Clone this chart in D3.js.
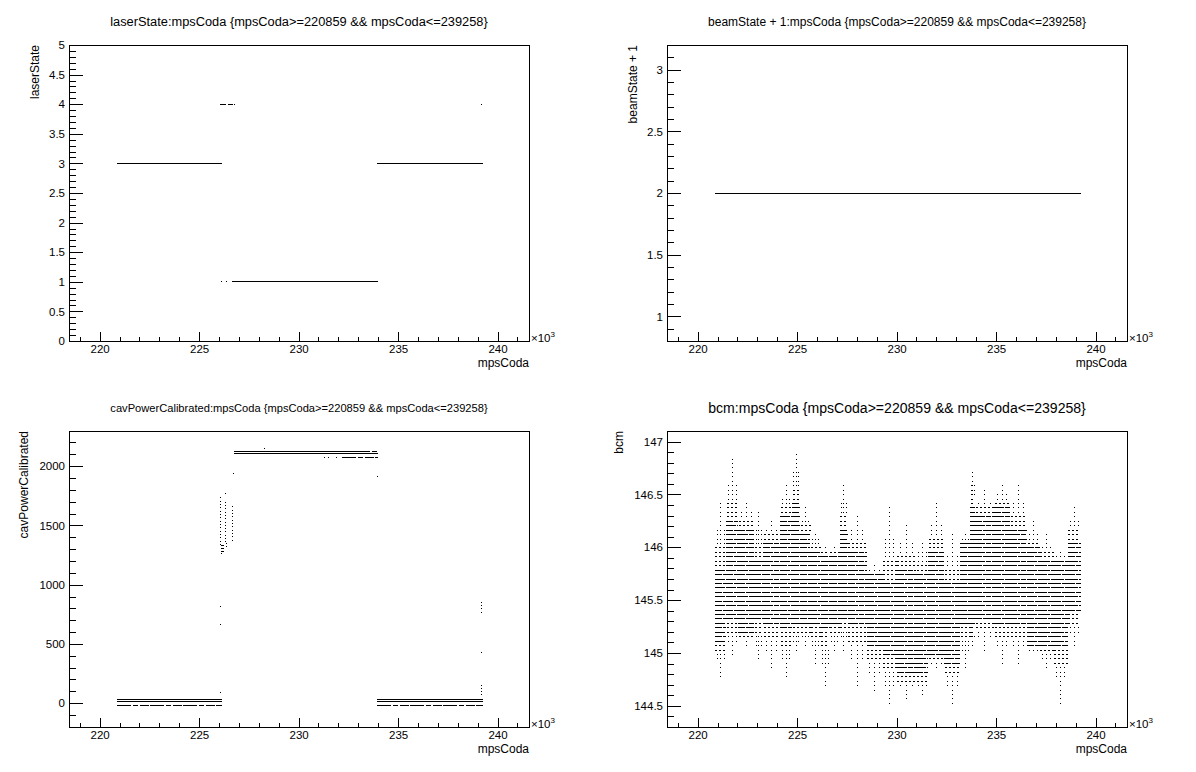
<!DOCTYPE html>
<html><head><meta charset="utf-8">
<script src="https://cdn.jsdelivr.net/npm/d3@7"></script>
<style>
body{margin:0;background:#fff}
svg{display:block;background:#fff}
text{font-family:"Liberation Sans",Arial,Helvetica,sans-serif;fill:#000}
</style></head><body>
<svg id="c" width="1196" height="772"></svg>
<script>
// ---------------- data ----------------
const padTitles = [
  "laserState:mpsCoda {mpsCoda>=220859 && mpsCoda<=239258}",
  "beamState + 1:mpsCoda {mpsCoda>=220859 && mpsCoda<=239258}",
  "cavPowerCalibrated:mpsCoda {mpsCoda>=220859 && mpsCoda<=239258}",
  "bcm:mpsCoda {mpsCoda>=220859 && mpsCoda<=239258}"
];
const yTitles = ["laserState", "beamState + 1", "cavPowerCalibrated", "bcm"];
const xTitle = "mpsCoda";
const xDomain = [218460, 241580];
const xMajorTicks = [220000, 225000, 230000, 235000, 240000];
const xMinorTicks = [219000,220000,221000,222000,223000,224000,225000,226000,227000,228000,229000,230000,231000,232000,233000,234000,235000,236000,237000,238000,239000,240000,241000];

const laserDomain = [0, 5];
const laserMajor = [0,0.5,1,1.5,2,2.5,3,3.5,4,4.5,5];
const beamDomain = [0.8, 3.2];
const beamMajor = [1,1.5,2,2.5,3];
const cavDomain = [-201, 2297];
const cavMajor = [0,500,1000,1500,2000];
const bcmDomain = [144.30, 147.10];
const bcmMajor = [144.5,145,145.5,146,146.5,147];

// laserState: runs of constant value [mpsCoda start, mpsCoda end, value]
const laserStart = [220859, 233950, 226650, 226100, 226350, 226060, 226440, 226770, 239190];
const laserEnd   = [226130, 239258, 233970, 226150, 226420, 226340, 226710, 226790, 239210];
const laserVal   = [3, 3, 1, 1, 1, 4, 4, 4, 4];

// beamState + 1
const beamStart = [220859];
const beamEnd   = [239258];
const beamVal   = [2];

// cavPowerCalibrated: bands [start, end, value, dashed]
const cavStart  = [220859, 220859, 220859, 233950, 233950, 233950, 226740, 232870, 226740, 232200];
const cavEnd    = [226130, 226130, 226130, 239258, 239258, 239258, 232870, 233970, 233970, 233970];
const cavVal    = [34, 13, -17, 34, 13, -17, 2123, 2123, 2103, 2075];
const cavDashed = [0, 0, 1, 0, 0, 1, 0, 1, 0, 1];
// transition columns [start, end, low, high]
const cavColStart = [226080, 226080, 226330, 226360, 226680];
const cavColEnd   = [226130, 226230, 226380, 226460, 226760];
const cavColLow   = [1340, 1277, 1361, 1319, 1376];
const cavColHigh  = [1741, 1335, 1713, 1361, 1657];
// isolated points
const cavPtX = [226100, 226340, 226050, 226050, 226050, 228300, 226740, 233950, 231290, 231500, 231900, 239200, 239200, 239200, 239200, 239200, 239200, 239200, 239200, 239200];
const cavPtY = [1264, 1770, 820, 660, 87, 2151, 1938, 1915, 2075, 2075, 2075, 848, 826, 800, 763, 424, 146, 120, 95, 70];

// bcm: envelope per mpsCoda block
const bcmEdges = [220859,221450,222050,222850,223300,224150,224750,225150,225650,226200,226650,227150,227550,228500,229300,230000,231000,231600,232400,233200,233700,233950,234900,235700,236570,237200,237900,238600,239258];
const bcmHigh  = [146.43,146.85,146.43,146.34,146.26,146.62,146.89,146.38,146.16,146.00,146.00,146.61,146.31,145.85,146.38,146.21,146.07,146.42,146.12,146.12,146.72,146.54,146.59,146.61,146.26,146.13,145.97,146.38];
const bcmLow   = [144.77,144.95,145.07,144.91,144.84,144.74,145.00,145.07,144.90,144.68,144.99,145.00,144.68,144.65,144.49,144.55,144.57,144.82,144.52,144.84,145.07,144.99,144.90,144.90,144.99,144.84,144.52,145.06];
const bcmCoreHigh = [145.82,146.25,146.20,145.90,146.07,146.30,146.45,146.13,145.97,145.94,145.94,146.19,145.97,145.75,145.69,145.82,145.78,145.97,145.69,146.04,146.40,146.30,146.38,146.19,146.00,145.88,145.88,146.07];
const bcmCoreLow  = [145.10,145.30,145.19,145.30,145.25,145.20,145.25,145.25,145.25,145.20,145.25,145.31,145.25,145.06,144.96,144.80,144.80,144.95,144.90,145.25,145.25,145.31,145.25,145.25,145.06,145.06,145.06,145.37];
const bcmQuantum = 0.042, bcmAnchor = 145.154;
const cavQuantum = 28;

// ---------------- layout ----------------
const W = 1196, H = 772;
const svg = d3.select("#c");
svg.append("rect").attr("width", W).attr("height", H).attr("fill", "#fff");

function padBox(col, row) {
  const x0 = (col * 0.5 + 0.01) * W, x1 = (col * 0.5 + 0.49) * W;
  const y0 = (row * 0.5 + 0.01) * H, y1 = (row * 0.5 + 0.49) * H;
  return {x0, x1, y0, y1, w: x1 - x0, h: y1 - y0};
}

function setupPad(idx, yDomain, yMajor, yTitleOff) {
  const p = padBox(idx % 2, Math.floor(idx / 2));
  const fl = Math.round(p.x0 + 0.1 * p.w), fr = Math.round(p.x1 - 0.1 * p.w);
  const ft = Math.round(p.y0 + 0.1 * p.h), fb = Math.round(p.y1 - 0.1 * p.h);
  const x = d3.scaleLinear().domain(xDomain).range([fl, fr]);
  const y = d3.scaleLinear().domain(yDomain).range([fb, ft]);
  const g = svg.append("g");
  const marks = g.append("g").attr("shape-rendering", "crispEdges");

  // title auto-fit to a fixed width like ROOT's title box
  const t = g.append("text").attr("x", (p.x0 + p.x1) / 2).attr("y", p.y0 + 14)
    .attr("text-anchor", "middle").attr("dominant-baseline", "central")
    .attr("font-size", 12).text(padTitles[idx]);
  const len = t.node().getComputedTextLength();
  t.attr("font-size", 12 * 378 / len);

  const xMajLen = 0.03 * (fb - ft), yMajLen = 0.03 * (fr - fl);
  const yMinor = [];
  const stepMinor = (yMajor[1] - yMajor[0]) / 5;
  for (let v = yMajor[0] - 10 * stepMinor; v <= yDomain[1] + 1e-9; v += stepMinor) {
    const vv = +v.toFixed(6);
    if (vv >= yDomain[0] - 1e-9 && vv <= yDomain[1] + 1e-9) yMinor.push(vv);
  }

  const axes = g.append("g").attr("shape-rendering", "crispEdges");
  axes.append("g").attr("transform", `translate(0,${fb})`)
    .call(d3.axisBottom(x).tickValues(xMinorTicks).tickSizeInner(-xMajLen / 2).tickSizeOuter(0).tickFormat(""));
  axes.append("g").attr("transform", `translate(0,${fb})`)
    .call(d3.axisBottom(x).tickValues(xMajorTicks).tickSizeInner(-xMajLen).tickSizeOuter(0).tickPadding(3.5)
      .tickFormat(d => d3.format("~g")(d / 1000)));
  axes.append("g").attr("transform", `translate(${fl},0)`)
    .call(d3.axisLeft(y).tickValues(yMinor).tickSizeInner(-yMajLen / 2).tickSizeOuter(0).tickFormat(""));
  axes.append("g").attr("transform", `translate(${fl},0)`)
    .call(d3.axisLeft(y).tickValues(yMajor).tickSizeInner(-yMajLen).tickSizeOuter(0).tickPadding(4)
      .tickFormat(d => d3.format("~g")(d)));
  axes.selectAll(".domain").remove();
  axes.selectAll("text").attr("font-size", 11.5).attr("font-family", null);
  axes.selectAll("g").attr("font-family", null);
  axes.selectAll("line").attr("stroke", "#000");

  g.append("rect").attr("x", fl + 0.5).attr("y", ft + 0.5).attr("width", fr - fl).attr("height", fb - ft)
    .attr("fill", "none").attr("stroke", "#000").attr("stroke-width", 1).attr("shape-rendering", "crispEdges");

  const e = g.append("text").attr("x", fr + 2).attr("y", fb + 1).attr("font-size", 11.5);
  e.append("tspan").text("\u00d710");
  e.append("tspan").attr("dy", -5).attr("font-size", 8).text("3");
  g.append("text").attr("x", fr).attr("y", fb + 25.5).attr("text-anchor", "end").attr("font-size", 12).text(xTitle);
  g.append("text").attr("transform", `translate(${fl - yTitleOff},${ft}) rotate(-90)`)
    .attr("text-anchor", "end").attr("font-size", 12).text(yTitles[idx]);

  return {x, y, marks};
}

function hline(g, x0, x1, yv, dash) {
  const l = g.append("line").attr("x1", x0).attr("x2", x1)
    .attr("y1", Math.floor(yv) + 0.5).attr("y2", Math.floor(yv) + 0.5)
    .attr("stroke", "#000").attr("stroke-width", 1);
  if (dash) l.attr("stroke-dasharray", dash);
  return l;
}
function dot(g, px, py) {
  g.append("rect").attr("x", Math.floor(px)).attr("y", Math.floor(py)).attr("width", 1).attr("height", 1).attr("fill", "#000");
}

// ---- pad 1: laserState
{
  const {x, y, marks} = setupPad(0, laserDomain, laserMajor, 30);
  laserVal.forEach((v, i) => {
    const a = x(laserStart[i]), b = Math.max(x(laserEnd[i]), a + 1);
    hline(marks, a, b, y(v), null);
  });
}
// ---- pad 2: beamState + 1
{
  const {x, y, marks} = setupPad(1, beamDomain, beamMajor, 30);
  beamVal.forEach((v, i) => hline(marks, x(beamStart[i]), x(beamEnd[i]), y(v), null));
}
// ---- pad 3: cavPowerCalibrated
{
  const {x, y, marks} = setupPad(2, cavDomain, cavMajor, 41);
  cavVal.forEach((v, i) => hline(marks, x(cavStart[i]), x(cavEnd[i]), y(v), cavDashed[i] ? "14,2,5,2,9,1" : null));
  cavColLow.forEach((lo, i) => {
    const a = x(cavColStart[i]), b = x(cavColEnd[i]);
    for (let v = lo; v <= cavColHigh[i] + 1e-6; v += cavQuantum) {
      if (b - a < 2) dot(marks, a, y(v));
      else hline(marks, a, b, y(v), null);
    }
  });
  cavPtX.forEach((v, i) => dot(marks, x(v), y(cavPtY[i])));
}
// ---- pad 4: bcm
{
  const {x, y, marks} = setupPad(3, bcmDomain, bcmMajor, 44);
  for (let i = 0; i < bcmHigh.length; i++) {
    const a = x(bcmEdges[i]), b = x(bcmEdges[i + 1]);
    const lo = bcmLow[i], hi = bcmHigh[i], cLo = bcmCoreLow[i], cHi = bcmCoreHigh[i];
    const kMin = Math.ceil((lo - bcmAnchor) / bcmQuantum - 1e-6);
    const kMax = Math.floor((hi - bcmAnchor) / bcmQuantum + 1e-6);
    const mid = (a + b) / 2;
    for (let k = kMin; k <= kMax; k++) {
      const L = bcmAnchor + k * bcmQuantum;
      const py = y(L);
      if (L >= cLo - 1e-6 && L <= cHi + 1e-6) {
        hline(marks, a, b, py, (k % 2 ? "10,1,5,1" : "7,1,12,1"));
      } else {
        const frac = L < cLo ? (cLo - L) / Math.max(cLo - lo, 1e-6) : (L - cHi) / Math.max(hi - cHi, 1e-6);
        if (frac <= 0.3) {
          for (let px = a + 1; px < b - 0.5; px += 4) { dot(marks, px, py); dot(marks, px + 1, py); }
        } else if (frac <= 0.6) {
          dot(marks, a + (b - a) * 0.2, py);
          dot(marks, mid, py);
          dot(marks, a + (b - a) * 0.8, py);
        } else {
          dot(marks, mid, py);
        }
      }
    }
  }
}
</script>
</body></html>
